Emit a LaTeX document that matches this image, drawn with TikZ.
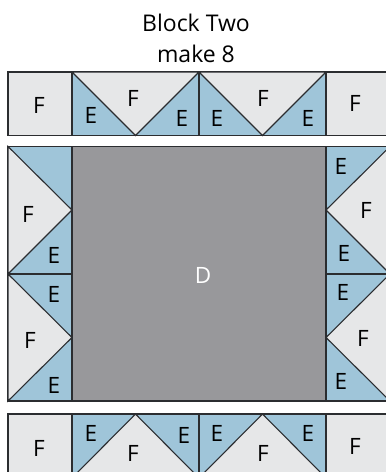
\documentclass[tikz,border=0pt]{standalone}
\usepackage{fontspec}
\setmainfont{Open Sans}
\definecolor{fgray}{HTML}{E6E7E8}
\definecolor{eblue}{HTML}{9FC5D9}
\definecolor{dgray}{HTML}{98989B}
\definecolor{edge}{HTML}{2B2D30}
\tikzset{
  patch/.style={draw=edge,line width=1.1pt,line join=miter},
  fpatch/.style={patch,fill=fgray},
  epatch/.style={patch,fill=eblue},
  dpatch/.style={patch,fill=dgray},
  lbl/.style={inner sep=0pt,font=\fontsize{22.5}{22.5}\selectfont,text=black},
  dlbl/.style={lbl,text=white},
  title/.style={inner sep=0pt,align=center,font=\fontsize{23}{31}\selectfont,text=black}
}
\begin{document}
\begin{tikzpicture}[x=1pt,y=-1pt]
\useasboundingbox (0,0) rectangle (386,472);
\begin{scope}
\clip (0,0) rectangle (386,472);
% top row
\draw[fpatch] (8,72) rectangle (72,135.5);
\draw[epatch] (72,72) rectangle (199,135.5);
\draw[epatch] (199,72) rectangle (326,135.5);
\draw[fpatch] (72,72) -- (135.5,135.5) -- (199,72) -- cycle;
\draw[fpatch] (199,72) -- (262.5,135.5) -- (326,72) -- cycle;
\draw[fpatch] (326,72) rectangle (392,135.5);
% centre
\draw[dpatch] (72,146.5) rectangle (326,401);
% left column
\draw[epatch] (8,146.5) rectangle (72,274);
\draw[epatch] (8,274) rectangle (72,401);
\draw[fpatch] (8,146.5) -- (72,210) -- (8,274) -- cycle;
\draw[fpatch] (8,274) -- (72,337.5) -- (8,401) -- cycle;
% right column
\draw[epatch] (326,146.5) rectangle (390,274);
\draw[epatch] (326,274) rectangle (390,401);
\draw[fpatch] (390,146.5) -- (326,210) -- (390,274) -- cycle;
\draw[fpatch] (390,274) -- (326,337.5) -- (390,401) -- cycle;
% bottom row
\draw[fpatch] (8,414) rectangle (72,478);
\draw[epatch] (72,414) rectangle (199,478);
\draw[epatch] (199,414) rectangle (326,478);
\draw[fpatch] (72,478) -- (135.5,414) -- (199,478) -- cycle;
\draw[fpatch] (199,478) -- (262.5,414) -- (326,478) -- cycle;
\draw[fpatch] (326,414) rectangle (392,478);
\end{scope}
\node[title] (t) at (196,38) {Block Two\\make 8};
\node[lbl] (f1) at (39,105) {F};
\node[lbl] (e1) at (91,115) {E};
\node[lbl] (f2) at (133,98) {F};
\node[lbl] (e2) at (182,118) {E};
\node[lbl] (e3) at (217,118) {E};
\node[lbl] (f3) at (263,98) {F};
\node[lbl] (e4) at (308,118) {E};
\node[lbl] (f4) at (355,103) {F};
\node[lbl] (f5) at (28,214) {F};
\node[lbl] (e5) at (54,255) {E};
\node[lbl] (e6) at (54,294) {E};
\node[lbl] (f6) at (30,340) {F};
\node[lbl] (e7) at (54,385) {E};
\node[lbl] (e8) at (341,166) {E};
\node[lbl] (f7) at (366,210) {F};
\node[lbl] (e9) at (344,253) {E};
\node[lbl] (e10) at (343,292) {E};
\node[lbl] (f8) at (363,338) {F};
\node[lbl] (e11) at (341,381) {E};
\node[dlbl] (d) at (203,275) {D};
\node[lbl] (f9) at (39,448) {F};
\node[lbl] (e12) at (91,433) {E};
\node[lbl] (f10) at (133,453) {F};
\node[lbl] (e13) at (184,435) {E};
\node[lbl] (e14) at (217,433) {E};
\node[lbl] (f11) at (263,453) {F};
\node[lbl] (e15) at (308,433) {E};
\node[lbl] (f12) at (355,446) {F};
\end{tikzpicture}
\end{document}
